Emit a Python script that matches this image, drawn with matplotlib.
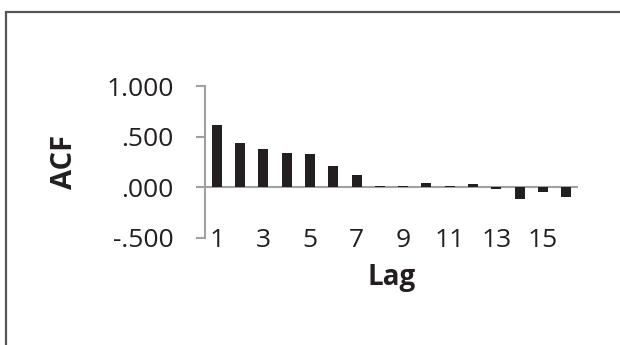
import matplotlib
matplotlib.use("Agg")
import matplotlib.pyplot as plt
from matplotlib.patches import Rectangle

lags = list(range(1, 17))
acf = [0.616, 0.440, 0.380, 0.341, 0.328, 0.207, 0.121, 0.009,
       0.016, 0.046, 0.016, 0.030, -0.012, -0.115, -0.046, -0.098]
xtick_vals = [1, 3, 5, 7, 9, 11, 13, 15]
ytick_vals = [-0.5, 0.0, 0.5, 1.0]
ytick_labels = ["-.500", ".000", ".500", "1.000"]

plt.rcParams['font.family'] = ['Open Sans', 'DejaVu Sans']
txt = '#231f20'
grey = '#a0a0a0'

fig = plt.figure(figsize=(6.2, 3.45), dpi=100)
ax = fig.add_axes([205/620, 1 - 238/345, (578-205)/620, (238-86)/345])

ax.bar(lags, acf, width=0.43, color='#231f20', zorder=3)
ax.axhline(0, color=grey, lw=1.5, zorder=2)

ax.set_xlim(0.5, 16.5)
ax.set_ylim(-0.5, 1.0)
ax.set_yticks(ytick_vals)
ax.set_yticklabels(ytick_labels)
ax.set_xticks(xtick_vals)
ax.set_xticklabels([str(v) for v in xtick_vals])

for s in ['top', 'right', 'bottom']:
    ax.spines[s].set_visible(False)
ax.spines['left'].set_color(grey)
ax.spines['left'].set_linewidth(1.5)

ax.tick_params(axis='y', length=6.5, width=1.5, color=grey, pad=16,
               labelsize=19, labelcolor=txt)
ax.tick_params(axis='x', length=0, pad=-7, labelsize=19, labelcolor=txt)

ax.set_ylabel('ACF', fontsize=21, fontweight='bold', color=txt, labelpad=20)
ax.set_xlabel('Lag', fontsize=20, fontweight='bold', color=txt, labelpad=7)

fig.patches.append(Rectangle((6/620, -0.2), 1.2, 1 - 12/345 + 0.2,
                             transform=fig.transFigure, fill=False,
                             edgecolor='#555555', lw=1.6))

fig.savefig('out.png', dpi=100)
